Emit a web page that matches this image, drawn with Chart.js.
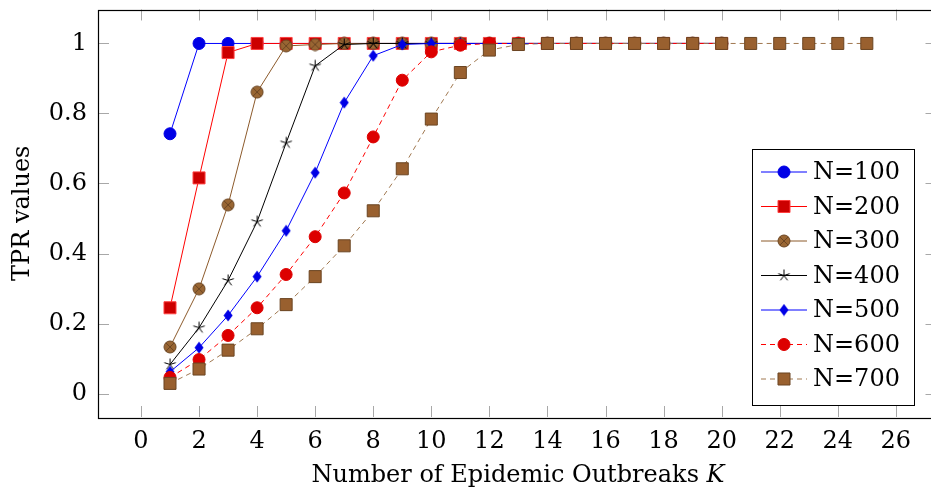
<!DOCTYPE html>
<html>
<head>
<meta charset="utf-8">
<script src="https://cdn.jsdelivr.net/npm/chart.js@4.4.1/dist/chart.umd.min.js"></script>
<style>
  html, body { margin: 0; padding: 0; background: #fff; overflow: hidden; }
  #wrap { width: 931px; height: 498px; overflow: hidden; position: relative; }
  canvas { position: absolute; left: 0; top: 0; }
</style>
</head>
<body>
<div id="wrap"><canvas id="tprChart" width="946" height="498" style="width:946px;height:498px"></canvas></div>
<script>
// K values (x axis)
const kShort = [1, 2, 3, 4, 5, 6, 7, 8, 9, 10, 11, 12, 13, 14, 15, 16, 17, 18, 19, 20];
const kLong = [1, 2, 3, 4, 5, 6, 7, 8, 9, 10, 11, 12, 13, 14, 15, 16, 17, 18, 19, 20, 21, 22, 23, 24, 25];

// TPR values per N
const tpr100 = [0.742, 1, 1, 1, 1, 1, 1, 1, 1, 1, 1, 1, 1, 1, 1, 1, 1, 1, 1, 1];
const tpr200 = [0.245, 0.616, 0.974, 1, 1, 1, 1, 1, 1, 1, 1, 1, 1, 1, 1, 1, 1, 1, 1, 1];
const tpr300 = [0.133, 0.299, 0.539, 0.861, 0.993, 0.997, 1, 1, 1, 1, 1, 1, 1, 1, 1, 1, 1, 1, 1, 1];
const tpr400 = [0.083, 0.188, 0.323, 0.491, 0.716, 0.936, 0.997, 1, 1, 1, 1, 1, 1, 1, 1, 1, 1, 1, 1, 1];
const tpr500 = [0.062, 0.131, 0.223, 0.334, 0.465, 0.631, 0.831, 0.965, 0.997, 1, 1, 1, 1, 1, 1, 1, 1, 1, 1, 1];
const tpr600 = [0.046, 0.097, 0.166, 0.245, 0.340, 0.448, 0.573, 0.733, 0.895, 0.976, 0.995, 1, 1, 1, 1, 1, 1, 1, 1, 1];
const tpr700 = [0.029, 0.070, 0.124, 0.185, 0.254, 0.334, 0.422, 0.522, 0.642, 0.784, 0.917, 0.981, 0.997, 1, 1, 1, 1, 1, 1, 1, 1, 1, 1, 1, 1];

const seriesLabels = ['N=100', 'N=200', 'N=300', 'N=400', 'N=500', 'N=600', 'N=700'];

// tick labels
const xTicks = [0, 2, 4, 6, 8, 10, 12, 14, 16, 18, 20, 22, 24, 26];
const yTicks = [0, 0.2, 0.4, 0.6, 0.8, 1];

const FONT = "'DejaVu Serif', 'Liberation Serif', serif";
const FSIZE = 24;

// custom marker shapes drawn on small canvases
function makeMark(w, h, drawFn) {
  const c = document.createElement('canvas');
  c.width = w; c.height = h;
  drawFn(c.getContext('2d'), w, h);
  return c;
}

// circle with x (brown)
const otimesMark = makeMark(14, 14, (g) => {
  g.fillStyle = '#996633';
  g.strokeStyle = '#6b4522';
  g.lineWidth = 1;
  g.beginPath(); g.arc(7, 7, 6, 0, Math.PI * 2); g.fill(); g.stroke();
  g.beginPath();
  g.moveTo(2.8, 2.8); g.lineTo(11.2, 11.2);
  g.moveTo(11.2, 2.8); g.lineTo(2.8, 11.2);
  g.stroke();
});

// five arm asterisk (black)
const starMark = makeMark(15, 15, (g) => {
  g.strokeStyle = '#000';
  g.lineWidth = 1;
  g.beginPath();
  for (let i = 0; i < 5; i++) {
    const a = -Math.PI / 2 + i * 2 * Math.PI / 5;
    g.moveTo(7.5, 7.5);
    g.lineTo(7.5 + 6 * Math.cos(a), 7.5 + 6 * Math.sin(a));
  }
  g.stroke();
});

// tall diamond (blue)
const diamondMark = makeMark(10, 13, (g) => {
  g.fillStyle = '#0000e6';
  g.beginPath();
  g.moveTo(5, 0.5); g.lineTo(9.5, 6.5); g.lineTo(5, 12.5); g.lineTo(0.5, 6.5);
  g.closePath(); g.fill();
});

function pts(ks, vals) {
  return ks.map((k, i) => ({ x: k, y: vals[i] }));
}

const styles = [
  { line: '#0000ff', fill: '#0000e6', border: '#0000e6', mark: 'circle', r: 6, dash: [] },
  { line: '#ff0000', fill: '#cc0000', border: '#ff4040', mark: 'rect', r: 8.5, dash: [] },
  { line: '#8c5a2b', fill: '#996633', border: '#6b4522', mark: otimesMark, r: 6, dash: [] },
  { line: '#000000', fill: '#000000', border: '#000000', mark: starMark, r: 6, dash: [] },
  { line: '#0000ff', fill: '#0000e6', border: '#0000e6', mark: diamondMark, r: 6, dash: [] },
  { line: '#ff0000', fill: '#dd0000', border: '#dd0000', mark: 'circle', r: 6, dash: [5, 4] },
  { line: '#a07850', fill: '#99602f', border: '#6b4522', mark: 'rect', r: 8.5, dash: [5, 4] }
];

const seriesData = [
  pts(kShort, tpr100), pts(kShort, tpr200), pts(kShort, tpr300), pts(kShort, tpr400),
  pts(kShort, tpr500), pts(kShort, tpr600), pts(kLong, tpr700)
];

const datasets = seriesData.map((d, i) => ({
  label: seriesLabels[i],
  data: d,
  borderColor: styles[i].line,
  borderWidth: 1,
  borderDash: styles[i].dash,
  pointStyle: styles[i].mark,
  pointRadius: styles[i].r,
  pointBackgroundColor: styles[i].fill,
  pointBorderColor: styles[i].border,
  pointBorderWidth: 1,
  fill: false,
  tension: 0,
  order: 7 - i  // later series on top
}));

// frame, inside ticks, axis titles and legend
const framePlugin = {
  id: 'frame',
  beforeDatasetsDraw(chart) {
    const { ctx, chartArea: a, scales: { x, y } } = chart;
    ctx.save();
    ctx.strokeStyle = '#a8a8a8';
    ctx.lineWidth = 1;
    ctx.beginPath();
    xTicks.forEach(v => {
      const px = Math.round(x.getPixelForValue(v)) + 0.5;
      ctx.moveTo(px, a.bottom); ctx.lineTo(px, a.bottom - 11);
      ctx.moveTo(px, a.top); ctx.lineTo(px, a.top + 11);
    });
    yTicks.forEach(v => {
      const py = Math.round(y.getPixelForValue(v)) + 0.5;
      ctx.moveTo(a.left, py); ctx.lineTo(a.left + 11, py);
      ctx.moveTo(a.right, py); ctx.lineTo(a.right - 11, py);
    });
    ctx.stroke();
    ctx.restore();
  },
  afterDraw(chart) {
    const { ctx, chartArea: a } = chart;
    ctx.save();
    // frame
    ctx.strokeStyle = '#000';
    ctx.lineWidth = 1.2;
    ctx.strokeRect(Math.round(a.left) + 0.5, Math.round(a.top) + 0.5,
      Math.round(a.right - a.left), Math.round(a.bottom - a.top));

    // x title with italic K
    ctx.fillStyle = '#000';
    ctx.textBaseline = 'middle';
    ctx.textAlign = 'left';
    const t1 = 'Number of Epidemic Outbreaks ';
    ctx.font = FSIZE + 'px ' + FONT;
    const w1 = ctx.measureText(t1).width;
    ctx.font = 'italic ' + FSIZE + 'px ' + FONT;
    const w2 = ctx.measureText('K').width;
    const cx = 518;
    let sx = cx - (w1 + w2) / 2;
    ctx.font = FSIZE + 'px ' + FONT;
    ctx.fillText(t1, sx, 476);
    ctx.font = 'italic ' + FSIZE + 'px ' + FONT;
    ctx.fillText('K', sx + w1, 476);

    // y title
    ctx.save();
    ctx.translate(23, (a.top + a.bottom) / 2);
    ctx.rotate(-Math.PI / 2);
    ctx.textAlign = 'center';
    ctx.font = FSIZE + 'px ' + FONT;
    ctx.fillText('TPR values', 0, 0);
    ctx.restore();

    // legend box
    const lx = 752, ly = 149, lw = 162, lh = 256;
    ctx.fillStyle = '#fff';
    ctx.fillRect(lx, ly, lw, lh);
    ctx.strokeStyle = '#000';
    ctx.lineWidth = 1;
    ctx.strokeRect(lx + 0.5, ly + 0.5, lw, lh);
    seriesLabels.forEach((lab, i) => {
      const st = styles[i];
      const yy = 172 + i * 34.5;
      ctx.save();
      ctx.strokeStyle = st.line;
      ctx.lineWidth = 1;
      ctx.setLineDash(st.dash);
      ctx.beginPath();
      ctx.moveTo(761, yy); ctx.lineTo(807, yy);
      ctx.stroke();
      ctx.setLineDash([]);
      ctx.fillStyle = st.fill;
      ctx.strokeStyle = st.border;
      Chart.helpers.drawPoint(ctx, { pointStyle: st.mark, radius: st.r, borderWidth: 1, rotation: 0 }, 784, yy);
      ctx.restore();
      ctx.fillStyle = '#000';
      ctx.font = FSIZE + 'px ' + FONT;
      ctx.textAlign = 'left';
      ctx.textBaseline = 'middle';
      ctx.fillText(lab, 813, yy + 1);
    });
    ctx.restore();
  }
};

// drop the extra edge padding Chart.js reserves for tick labels
function noEdgePad(scale) {
  scale.paddingTop = 0;
  scale.paddingBottom = 0;
  scale.paddingLeft = 0;
  scale.paddingRight = 0;
}

const ctx = document.getElementById('tprChart').getContext('2d');
new Chart(ctx, {
  type: 'line',
  data: { datasets: datasets },
  options: {
    responsive: false,
    animation: false,
    devicePixelRatio: 1,
    layout: { padding: { left: 0, top: 7, right: 4, bottom: 0 } },
    plugins: {
      legend: { display: false },
      tooltip: { enabled: false }
    },
    scales: {
      x: {
        type: 'linear',
        min: -1.48,
        max: 27.4,
        grid: { display: false },
        border: { display: false },
        afterBuildTicks: (scale) => { scale.ticks = xTicks.map(v => ({ value: v })); },
        afterFit: (scale) => { scale.height = 81; noEdgePad(scale); },
        ticks: {
          padding: 2,
          maxRotation: 0,
          autoSkip: false,
          color: '#000',
          font: { family: FONT, size: FSIZE },
          callback: (v) => String(v)
        }
      },
      y: {
        min: -0.067,
        max: 1.097,
        grid: { display: false },
        border: { display: false },
        afterBuildTicks: (scale) => { scale.ticks = yTicks.map(v => ({ value: v })); },
        afterFit: (scale) => { scale.width = 98; noEdgePad(scale); },
        ticks: {
          padding: 3,
          color: '#000',
          font: { family: FONT, size: FSIZE },
          callback: (v) => String(Math.round(v * 10) / 10)
        }
      }
    }
  },
  plugins: [framePlugin]
});
</script>
</body>
</html>
